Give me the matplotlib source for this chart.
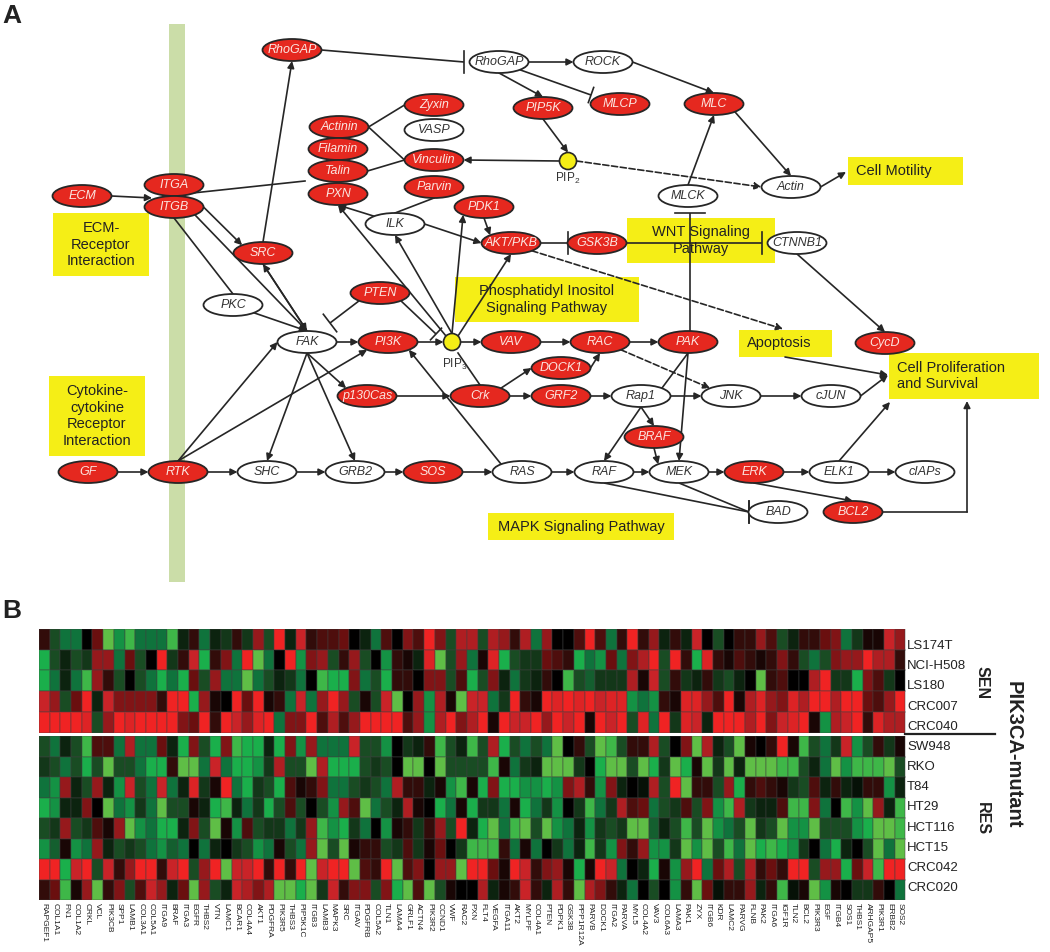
import math
import matplotlib
matplotlib.use("Agg")
import matplotlib.pyplot as plt
from matplotlib.colors import LinearSegmentedColormap
from matplotlib.patches import Ellipse, Rectangle, Circle, FancyArrowPatch

plt.rcParams['font.family'] = ['Liberation Sans', 'DejaVu Sans']
plt.rcParams['mathtext.fontset'] = 'custom'
plt.rcParams['mathtext.rm'] = 'Liberation Sans'

W, H = 1050, 952

# ---------------- heat map data ----------------
genes = ["RAPGEF1","COL1A1","FN1","COL1A2","CRKL","VCL","PIK3CB","SPP1","LAMB1","COL3A1","COL5A1","ITGA9","BRAF","ITGA3","EGFR","THBS2","VTN","LAMC1","BCAR1","COL4A4","AKT1","PDGFRA","PIK3R5","THBS3","PIP5K1C","ITGB3","LAMB3","MAPK3","SRC","ITGAV","PDGFRB","COL5A2",
         "TLN1","LAMA4","GRLF1","ACTN4","PIK3R2","CCND1","VWF","RAC2","PXN","FLT4","VEGFA","ITGA11","AKT2","MYLPF","COL4A1","PTEN","PDPK1","GSK3B","PPP1R12A","PARVB","DOCK1","ITGA2","PARVA","MYL5","COL4A2","VAV3","COL6A3","LAMA3","PAK1","ZYX","ITGB6","KDR",
         "LAMC2","PARVG","FLNB","PAK2","ITGA6","IGF1R","TLN2","BCL2","PIK3R3","EGF","ITGB4","SOS1","THBS1","ARHGAP5","PIK3R1","ERBB2","SOS2"]
cell_lines = ["LS174T","NCI-H508","LS180","CRC007","CRC040","SW948","RKO","T84","HT29","HCT116","HCT15","CRC042","CRC020"]

LS174T = [1,-2,-3,-3,0,2,-5,-3.5,-4.5,-3,-3,-3,-4.5,-1,1,-3,-1,-1.5,1,-1.5,3,-2,5,-1,4,1,1.5,1.5,2,0,-1,-3,
          1.5,0,2.5,1.5,5,2.5,-2,3.5,3.5,-2,3.5,3,1,3.5,-3,3,0,0,1.5,5,1.5,-3,1,5,1,3,-1,1,-1,4,0,-2,
          0,1,1,3,1.5,-2,-1,1,1,2,2.5,-3,-1.5,0.5,0.5,4,3]
NCI_H508 = [-4,-2,-1,-2,-1.5,3,3,-3,2,-2,0,5,-1.5,1,4,-4,1,2.5,-3,5,-5,-3,0,5,-3.5,2.5,3,-2,1,3,-2,0,
            -3.5,1,0.5,-1,4.5,-5,-2,3,-3,0.5,4.5,-4,-2,-1.5,-1.5,2,1.5,1,-4,-3,-3.5,2,-3,2.5,3.5,5,-2,5,1,-4,4.5,1,
            0.5,1.5,1,0.5,1,2.5,1,-2,-3,-2,2.5,3,3,5,3.5,3.5,1]
LS180 = [-4,-3,-1,-3,-4.5,3,1,-2,0,-2,-3,-4,-3,-4,2,-2,3,-3,-3,-5,-3,-2,-1,-1.5,-3,0,-4.5,-4,-4,2.5,-3,-2,
         -4,1,1,0,2.5,2.5,-2,1.5,-4,-2,2.5,-1,-3,-1.5,-1,1,0,-4.5,-2,-2.5,-1.5,-1.5,-1.5,3.5,0.5,4,-2,1,-1.5,-1,1,-1.5,
         -2,-1,0,-5,1,1.5,0,0,3.5,5,-1.5,-1.5,-4,2.5,1.5,-1.5,0]
CRC007 = [4,3,-2,2,5,-1,4,2.5,2.5,2.5,2.5,1,5,5,-4,3,0.5,0,5,2,5,0.5,1,-3,4,-3,3,5,3,-2,0.5,-2,
          4,-5,0,3,-3.5,3.5,0.5,-5,4,4,-3,-1.5,5,1,0.5,5,4.5,5,4.5,5,4,4.5,4.5,-3.5,-3,-3.5,1,0.5,4.5,4.5,3,1.5,
          5,0.5,3.5,4.5,3,2.5,4.5,3.5,5,5,3.5,5,5,2,1.5,3,5]
CRC040 = [5,5,5,5,4.5,-2,3,5,4.5,5,5,5,5,2.5,2,5,1,5,4,3,4.5,5,-3,2.5,2.5,5,1.5,3.5,1.5,3,5,5,
          5,5,1.5,3,-3.5,3.5,5,2.5,3.5,5,0.5,5,4,4,5,3,5,4,5,0.5,5,4,5,-2,4.5,-3,5,-1.5,4.5,4,-1,5,
          5,5,3.5,5,2.5,4,4.5,5,0.5,-3.5,3.5,4,5,1,4.5,3.5,3.5]
SW948 = [-2,-3,-1,-2,-4.5,1.5,1.5,-3,3.5,-3,-3,2,-1,-4,2.5,-2,-4,2.5,-4.5,-4,-4,-1,-4,2.5,-3.5,3,-3,-3,-3,4,-2,-2,
         -3.5,0,-1.5,-1,1,-4.5,-2,-1,-4.5,-2,3.5,-4,-2,-3,-2,-3,-5,0,1,-2,-5,-4.5,-2,1,1,3.5,-2,0,2.5,-5,3.5,-1,
         -2,-5,0.5,0,1,5,0.5,-4.5,-2,-3,-1.5,4,-3.5,-2,1,-1.5,0.5]
RKO = [-1.5,-2,-3,-2,-4,-2,-5,-2,-2,-3,-4,-4,1,-5,-5,-3,4,-3,-4,-4,-3.5,-1.5,3.5,-2,-2,-5,3.5,-4,-4,-4,-2,-1.5,
       -2,0,-5,-5,0,-5,-2,-2,-2,-2,-4.5,0.5,-3,-1.5,-1,-5,-5,-5,-1.5,0,-4,-5,-5,-2,-5,-4,-1.5,-5,-4,0.5,-5,-1.5,
       -5,-1,-5,-5,-5,-4.5,-4.5,-2,-1,-3,-5,-3.5,-4.5,-4.5,-4.5,-5,-2]
T84 = [-3,-3.5,3,-1,-2,3,-1,-3.5,4,-2,-3,4,-3,-1,4.5,-1.5,0.5,5,-3,-4,-1.5,-2,-4,1.5,0.5,1,2.5,-3,-3,-2,-1.5,-2,
       -3,3.5,1,1,-1,0.5,-3.5,-4.5,0.5,-4,2.5,-4,-4,-3.5,-3.5,-4,-3.5,2.5,3.5,1,-3.5,2.5,-1,0,-0.5,3.5,-2,5,-5,1,1,-2,
       3,-4,1,1.5,1,0.5,-1.5,-2,1.5,-1,1,-1,-0.5,1,1,-3.5,-1]
HT29 = [-4,-3.5,-1,-1,2.5,0,-5,-3,-3.5,-1.5,-3,-5,-2,-2,0.5,-1,-4,-4.5,-1,-3,-1.5,-4,-2,1.5,-2,0,-2,-3.5,3,1.5,-5,-3,
        -2,-1,3.5,0.5,0,-4,-3,0.5,-4,-1.5,-1.5,-3,0.5,-4,-3,-1.5,-3.5,0,-1.5,-4.5,-3,-1.5,3.5,1.5,2,-3,-2,-1.5,1.5,-2,2.5,-3.5,
        -4.5,3.5,-1.5,-1,-1,1.5,-4.5,-4.5,2.5,-3,0,-4.5,-3.5,-5,3,-1,-4.5]
HCT116 = [-2,-1.5,3,-2,-1.5,1.5,0.5,3,-5,-3.5,-3,-4,-4,-1,2.5,-2,-5,0.5,-3.5,1.5,-2,-1.5,-1.5,-3,-1.5,3,-4.5,-3.5,-4,-1.5,-3,0,
          -3.5,0.5,1,-1.5,1,3,-2,5,-1,-4,-5,-3,-4.5,-5,-2,-5,-3.5,-3,-1,-3.5,-1.5,-2,-1.5,-5,-5,-2.5,-1,-2,-4.5,-2,-5,-3.5,
          -3,-2,-5,-1.5,-2,-5,-3.5,-3.5,-5,-2,-2,-2,-3.5,-4,-5,-5,-4.5]
HCT15 = [-3.5,-2.5,0.5,-3.5,-3,3,-1,-2,-1.5,-2,-3,-3.5,-2.5,-3,0,-3,-1,0,-1.5,-2,-3.5,-3,0.5,-2,-3,3,-5,-2,-5,0.5,1,1,
         -2,-1.5,1.5,-1.5,0.5,2,0,-1.5,-4.5,-4.5,-4.5,1,-3,0.5,-3,0,-1.5,-3,-1,-4.5,-1.5,-3.5,2.5,1,3,-3.5,-3.5,-1.5,-5,-3.5,-5,-2,
         -4.5,-3,-5,-4,-4.5,-4,-3.5,-1.5,0,-3,-4,-1,0,-2,-5,-3,-5]
CRC042 = [5,5,-4,4,5,-2,4,1,3,5,5,1,4,5,-2,3,5,-5,4,4,5,1,5,1,5,-5,4,5,5,-5,1.5,1,
          5,-5,1.5,2.5,0,3,3,-5,5,5,2,0.5,5,4,1,2.5,3,0.5,-4,0.5,5,4,-3,0,-1,-4,0.5,-3.5,3,5,-3,2,
          3.5,-2,3.5,1,2,1,5,5,-2,3,3,-4,2,4,-4.5,5,5]
CRC020 = [1,2,-4.5,0.5,3,-5,1,2.5,-2,1.5,4,3,-1,2,-5,3,-2,-1,4,3.5,2.5,3.5,-5,-5,-4,-5,-1.5,4,1,2.5,2.5,-2,
          2.5,-4,-5,1.5,-5,-2,0.5,0,0,3.5,-1,0.5,1,4,1,-1,3.5,1,-5,3.5,2.5,1,-1,-3,0,-2,0,-3.5,1,-5,2,-0.5,
          1,1,3,-1,1,-4.5,-0.5,0.5,-5,-3.5,0.5,0,-1.5,-1.5,1,0,-3]

SEN_rows = [LS174T, NCI_H508, LS180, CRC007, CRC040]
RES_rows = [SW948, RKO, T84, HT29, HCT116, HCT15, CRC042, CRC020]
for r in SEN_rows + RES_rows:
    assert len(r) == len(genes), len(r)

# ---------------- pathway data ----------------
# name: (x, y, kind); kinds: r red, w white, y metabolite, p junction
nodes = {
 'RhoGAP_r':(292,50,'r'),'RhoGAP_w':(499,62,'w'),'ROCK':(603,62,'w'),'PIP5K':(543,108,'r'),'MLCP':(620,104,'r'),
 'MLC':(714,104,'r'),'Zyxin':(434,105,'r'),'VASP':(434,130,'w'),'Actinin':(339,127,'r'),'Filamin':(338,149,'r'),
 'Talin':(338,171,'r'),'Vinculin':(434,160,'r'),'PIP2':(568,161,'y'),'Parvin':(434,187,'r'),'PXN':(338,194,'r'),
 'ECM':(82,196,'r'),'ITGA':(174,185,'r'),'ITGB':(174,207,'r'),'Actin':(791,187,'w'),'MLCK':(688,196,'w'),
 'PDK1':(484,207,'r'),'ILK':(395,224,'w'),'SRC':(263,253,'r'),'AKT/PKB':(511,243,'r'),'GSK3B':(597,243,'r'),
 'CTNNB1':(797,243,'w'),'PTEN':(380,293,'r'),'PKC':(233,305,'w'),'FAK':(307,342,'w'),'PI3K':(388,342,'r'),
 'PIP3':(452,342,'y'),'VAV':(511,342,'r'),'RAC':(600,342,'r'),'PAK':(688,342,'r'),'CycD':(885,343,'r'),
 'Crk':(480,396,'r'),'p130Cas':(367,396,'r'),'DOCK1':(561,368,'r'),'GRF2':(561,396,'r'),'Rap1':(641,396,'w'),
 'JNK':(731,396,'w'),'cJUN':(831,396,'w'),'BRAF':(654,437,'r'),'GF':(88,472,'r'),'RTK':(178,472,'r'),
 'SHC':(267,472,'w'),'GRB2':(355,472,'w'),'SOS':(433,472,'r'),'RAS':(522,472,'w'),'RAF':(604,472,'w'),
 'MEK':(679,472,'w'),'ERK':(754,472,'r'),'ELK1':(839,472,'w'),'cIAPs':(925,472,'w'),'BAD':(778,512,'w'),
 'BCL2':(853,512,'r'),
 'j_ecm':(152,198,'p'),'j_talin':(305,181,'p'),'j_bcl2':(967,512,'p'),'j_motil':(846,172,'p'),'j_apop':(783,329,'p'),
 'j_prol_a':(888,375,'p'),'j_prol_b':(890,402,'p'),'j_prol_c':(967,401,'p'),'j_apop_s':(785,357,'p'),
 'j_mlck':(690,213,'p'),'j_pak':(690,331,'p'),'j_pip3_s':(458,353,'p'),
 'j_fak_bar':(330,323,'p'),'j_pip3_bar':(436,334,'p'),'j_mlcp_bar':(591,95,'p'),'j_rho_bar':(464,62,'p'),
 'j_ctn_bar':(762,243,'p'),'j_gsk_bar':(568,243,'p'),'j_bad_bar':(749,512,'p'),
}
# source, target, kind (a arrow, d dashed arrow, l plain line, i inhibition bar, v vertical bar), source anchor, target anchor
edges = [
 ('ECM','j_ecm','a','e',None),('ITGA','j_talin','l','se',None),('ITGB','SRC','a','e','nw'),('ITGB','FAK','a','se','n'),
 ('ITGB','PKC','l','s','n'),('PKC','FAK','a','se','n'),('FAK','SRC','a','n','s'),('SRC','FAK','a','s','n'),
 ('SRC','RhoGAP_r','a','n','s'),('Actinin','Zyxin','l','e','w'),('Actinin','Vinculin','l','e','w'),
 ('Talin','Vinculin','l','e','w'),('PIP2','Vinculin','a','w','e'),('Parvin','ILK','l','s','n'),('ILK','PXN','a','nw','s'),
 ('ILK','AKT/PKB','a','e','w'),('PIP3','ILK','a','n','s'),('PIP3','PXN','a','nw','s'),('PIP3','PDK1','a','n','sw'),
 ('PDK1','AKT/PKB','a','s','nw'),('PIP3','AKT/PKB','a','ne','s'),('AKT/PKB','j_gsk_bar','v','e',None),
 ('GSK3B','j_ctn_bar','v','e',None),('j_pak','j_mlck','i',None,None),('MLCK','MLC','a','n','s'),('MLC','Actin','a','se','n'),
 ('Actin','j_motil','a','e',None),('ROCK','MLC','a','e','n'),('RhoGAP_w','ROCK','a','e','w'),('RhoGAP_w','PIP5K','a','s','n'),
 ('RhoGAP_w','j_mlcp_bar','i','se',None),('PIP5K','PIP2','a','s','n'),('PIP2','Actin','d','e','w'),('RhoGAP_r','j_rho_bar','v','e',None),
 ('AKT/PKB','j_apop','d','se',None),('RAC','JNK','d','se','nw'),('j_apop_s','j_prol_a','a',None,None),('CTNNB1','CycD','a','s','n'),
 ('FAK','PI3K','a','e','w'),('PI3K','PIP3','a','e','w'),('PIP3','VAV','a','e','w'),('VAV','RAC','a','e','w'),('RAC','PAK','a','e','w'),
 ('PTEN','j_fak_bar','i','sw',None),('PTEN','j_pip3_bar','i','se',None),('RTK','FAK','a','n','w'),('RTK','PI3K','a','n','sw'),
 ('FAK','p130Cas','a','s','nw'),('FAK','SHC','a','s','n'),('FAK','GRB2','a','s','n'),('RAS','PI3K','a','nw','se'),
 ('Crk','j_pip3_s','l','n',None),('p130Cas','Crk','a','e','w'),('Crk','DOCK1','a','ne','w'),('DOCK1','RAC','a','e','s'),
 ('Crk','GRF2','a','e','w'),('GRF2','Rap1','a','e','w'),('Rap1','JNK','a','e','w'),('JNK','cJUN','a','e','w'),
 ('cJUN','j_prol_a','a','e',None),('Rap1','BRAF','a','s','n'),('Rap1','RAF','a','s','n'),('Rap1','PAK','l','ne','s'),
 ('PAK','MEK','a','s','n'),('BRAF','MEK','a','s','nw'),('GF','RTK','a','e','w'),('RTK','SHC','a','e','w'),('SHC','GRB2','a','e','w'),
 ('GRB2','SOS','a','e','w'),('SOS','RAS','a','e','w'),('RAS','RAF','a','e','w'),('RAF','MEK','a','e','w'),('MEK','ERK','a','e','w'),
 ('ERK','ELK1','a','e','w'),('ELK1','cIAPs','a','e','w'),('ELK1','j_prol_b','a','n',None),('ERK','BCL2','a','s','n'),
 ('RAF','j_bad_bar','v','s',None),('MEK','j_bad_bar','v','s',None),('BCL2','j_bcl2','l','e',None),('j_bcl2','j_prol_c','a',None,None),
]
# x0, x1, y0, y1, text
boxes = [
 (53,149,213,276,"ECM-\nReceptor\nInteraction"),
 (49,145,376,456,"Cytokine-\ncytokine\nReceptor\nInteraction"),
 (848,963,157,185,"Cell Motility"),
 (627,775,218,263,"WNT Signaling\nPathway"),
 (455,639,277,322,"Phosphatidyl Inositol\nSignaling Pathway"),
 (739,832,330,357,"Apoptosis"),
 (889,1039,353,399,"Cell Proliferation\nand Survival"),
 (488,674,513,540,"MAPK Signaling Pathway"),
]

# ---------------- figure ----------------
fig = plt.figure(figsize=(W/100, H/100), dpi=100)
ax = fig.add_axes([0, 0, 1, 1])
ax.set_xlim(0, W); ax.set_ylim(H, 0); ax.axis('off')

INK = '#262626'
RX, RY = 29.5, 11
ANG = {'e':0,'ne':-45,'n':-90,'nw':-135,'w':180,'sw':135,'s':90,'se':45}

def radii(k):
    return {'r':(RX,RY),'w':(RX,RY),'y':(8.5,8.5),'p':(0,0)}[k]

def port(name, anchor, toward):
    x, y, k = nodes[name]
    rx, ry = radii(k)
    if k == 'p':
        return x, y
    if anchor:
        t = math.radians(ANG[anchor])
        return x + rx*math.cos(t), y + ry*math.sin(t)
    t = math.atan2((toward[1]-y)/ry, (toward[0]-x)/rx)
    return x + rx*math.cos(t), y + ry*math.sin(t)

ax.add_patch(Rectangle((169, 24), 16, 558, fc='#CBDDA8', ec='none', zorder=0))

for x0, x1, y0, y1, txt in boxes:
    ax.add_patch(Rectangle((x0, y0), x1-x0, y1-y0, fc='#F5EE16', ec='none', zorder=1))
    left = txt.startswith(('Cell', 'Apop'))
    ax.text(x0+8 if left else (x0+x1)/2, (y0+y1)/2, txt, fontsize=10.5, color='#222222',
            ha='left' if left else 'center', va='center', linespacing=1.25, zorder=5)

BAR_HALF = {'j_pip3_bar':8, 'j_mlcp_bar':8, 'j_fak_bar':11, 'j_mlck':15}
for s, d, kind, sa, da in edges:
    p0 = port(s, sa, nodes[d][:2])
    p1 = port(d, da, nodes[s][:2])
    if kind in 'iv':
        ax.plot([p0[0], p1[0]], [p0[1], p1[1]], color=INK, lw=1.2, zorder=2, solid_capstyle='butt')
        if kind == 'v':
            ax.plot([p1[0], p1[0]], [p1[1]-11, p1[1]+11], color=INK, lw=1.2, zorder=2)
        else:
            L = math.hypot(p1[0]-p0[0], p1[1]-p0[1])
            ux, uy = (p1[0]-p0[0])/L, (p1[1]-p0[1])/L
            h = BAR_HALF.get(d, 11)
            ax.plot([p1[0]-uy*h, p1[0]+uy*h], [p1[1]+ux*h, p1[1]-ux*h], color=INK, lw=1.2, zorder=2)
    elif kind == 'l':
        ax.plot([p0[0], p1[0]], [p0[1], p1[1]], color=INK, lw=1.2, zorder=2)
    else:
        ax.add_patch(FancyArrowPatch(p0, p1, arrowstyle='-|>', mutation_scale=10, shrinkA=0, shrinkB=0,
                                     lw=1.2, color=INK, zorder=2, linestyle='--' if kind == 'd' else '-'))

for name, (x, y, k) in nodes.items():
    if k == 'p':
        continue
    if k == 'y':
        ax.add_patch(Circle((x, y), 8.5, fc='#F5EE16', ec=INK, lw=1.2, zorder=3))
        continue
    ax.add_patch(Ellipse((x, y), 2*RX, 2*RY, fc='#E5281F' if k == 'r' else 'white', ec=INK, lw=1.3, zorder=3))
    label = name.split('_')[0]
    ax.text(x, y, label, fontsize=9, style='italic', color='#FBE5E0' if k == 'r' else '#333333',
            ha='center', va='center', zorder=4)

ax.text(568, 178, r'PIP$_{\mathregular{2}}$', fontsize=8.5, color='#333333', ha='center', va='center', zorder=4)
ax.text(455, 364, r'PIP$_{\mathregular{3}}$', fontsize=8.5, color='#333333', ha='center', va='center', zorder=4)

ax.text(2, 16, 'A', fontsize=19, fontweight='bold', color='#222222', ha='left', va='center')
ax.text(2, 611, 'B', fontsize=19, fontweight='bold', color='#222222', ha='left', va='center')

cmap = LinearSegmentedColormap.from_list('heat', [
    (0.0, (95/255,190/255,70/255)), (0.1, (25/255,175/255,75/255)), (0.2, (15/255,115/255,60/255)),
    (0.3, (25/255,75/255,35/255)), (0.4, (12/255,35/255,15/255)), (0.5, (0,0,0)),
    (0.6, (50/255,12/255,10/255)), (0.7, (105/255,15/255,15/255)), (0.8, (150/255,25/255,28/255)),
    (0.9, (200/255,35/255,40/255)), (1.0, (240/255,35/255,35/255))])

X0, X1 = 39, 905.5
def heat_axes(y0, y1, rows):
    a = fig.add_axes([X0/W, 1-y1/H, (X1-X0)/W, (y1-y0)/H])
    a.pcolormesh(rows, cmap=cmap, vmin=-5, vmax=5, edgecolors=(0.25, 0.25, 0.25, 0.25), linewidth=0.3)
    a.set_ylim(len(rows), 0)
    a.set_yticks([])
    a.set_xticks([])
    for s in a.spines.values():
        s.set_visible(False)
    return a

ax_sen = heat_axes(629, 732.5, SEN_rows)
ax_res = heat_axes(736, 900, RES_rows)
ax_res.set_xticks([i+0.5 for i in range(len(genes))])
ax_res.set_xticklabels(genes, rotation=270, fontsize=6, color='#222222', ha='center', va='top')
ax_res.tick_params(axis='x', length=0, pad=2)

over = fig.add_axes([0, 0, 1, 1], zorder=5)
over.set_xlim(0, W); over.set_ylim(H, 0); over.axis('off'); over.patch.set_alpha(0)
for i, name in enumerate(cell_lines):
    over.text(907, 646 + i*20.17, name, fontsize=9.5, color='#222222', ha='left', va='center')
over.plot([905, 995], [734, 734], color='#222222', lw=1.6)
over.text(982, 683, 'SEN', fontsize=11.5, fontweight='bold', color='#222222', rotation=270, ha='center', va='center')
over.text(982, 819, 'RES', fontsize=11.5, fontweight='bold', color='#222222', rotation=270, ha='center', va='center')
over.text(1013, 755, 'PIK3CA-mutant', fontsize=14.5, fontweight='bold', color='#222222', rotation=270, ha='center', va='center')

fig.savefig('out.png', dpi=100)
